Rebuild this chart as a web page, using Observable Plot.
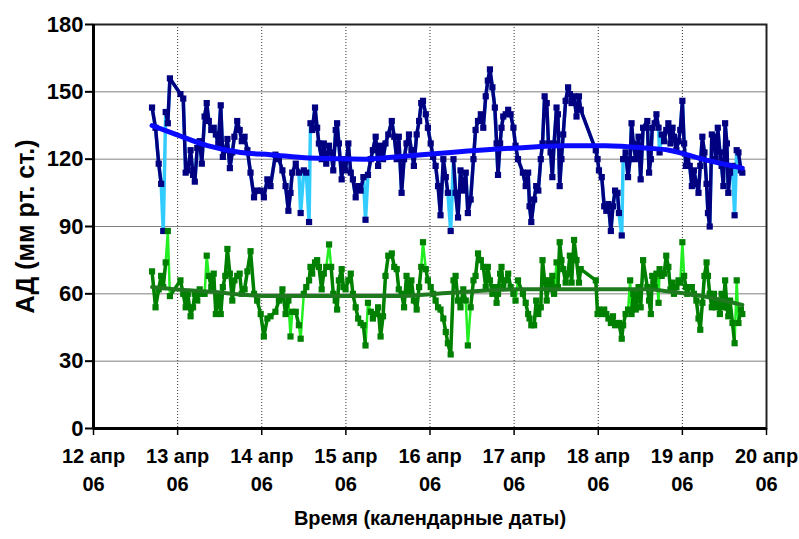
<!DOCTYPE html>
<html><head><meta charset="utf-8">
<script src="https://cdn.jsdelivr.net/npm/d3@7"></script>
<script src="https://cdn.jsdelivr.net/npm/@observablehq/plot@0.6"></script>
<style>
body{margin:0;background:#fff;}
</style></head><body><div id="chart"></div>
<script>
// Hours since 12 Apr 2006 00:00
const hours = [
16.7,17.7,18.6,19.3,19.9,20.6,21.2,21.8,24.8,25.6,26.3,26.9,27.7,28.4,28.9,29.6,30.3,30.9,31.7,32.3,32.9,33.6,34.3,34.9,35.6,36.3,36.9,37.6,38.2,38.9,39.6,40.2,41.0,41.7,42.3,43.1,43.9,44.8,45.8,46.7,47.7,48.6,49.6,50.5,
51.9,52.9,53.9,54.8,55.6,56.2,56.7,57.7,58.6,59.1,60.0,60.7,61.5,61.9,62.4,63.2,63.8,64.3,65.1,65.7,66.4,67.2,67.8,68.4,69.1,69.5,70.0,70.8,71.3,71.9,72.7,73.4,74.0,74.8,75.5,76.2,77.0,77.6,78.3,79.1,79.7,80.5,81.2,81.9,82.6,83.3,84.1,85.1,85.8,
86.5,87.1,87.9,88.6,89.3,90.0,90.7,91.4,92.2,92.9,93.5,94.0,94.8,95.4,96.2,96.9,97.6,98.3,99.0,99.8,100.5,101.1,101.9,102.7,103.3,104.0,104.7,105.5,106.2,106.8,107.6,108.4,109.0,109.7,110.5,111.2,111.9,112.5,113.1,113.8,114.5,115.0,115.4,116.0,116.4,116.9,117.6,118.3,119.0,119.8,120.4,121.1,
122.5,123.3,124.0,124.4,124.9,125.7,126.3,126.9,127.6,128.1,128.7,129.3,129.8,130.4,130.9,131.4,132.1,132.5,133.0,133.5,134.0,134.7,135.4,135.9,136.4,137.1,137.8,138.5,139.0,143.3,143.8,144.2,145.0,145.7,146.3,146.9,147.6,148.2,148.8,149.5,149.9,150.7,151.1,151.8,152.5,153.1,153.5,154.0,154.7,155.5,156.1,156.8,
158.0,158.5,159.0,159.4,160.1,160.6,161.2,161.5,162.1,162.8,163.4,164.0,164.6,165.2,165.6,166.3,166.9,167.4,168.0,168.5,169.0,169.4,170.1,170.7,171.3,172.0,172.6,173.1,173.7,174.3,174.9,175.3,175.8,176.4,177.0,177.5,178.1,178.7,179.2,179.7,180.2,180.7,181.1,181.6,182.3,182.9,183.5,184.0,184.7,185.1
];
const systolic = [
143,134,118,109,88,141,136,156,149,147,114,115,124,113,110,125,128,118,139,145,137,133,134,131,127,144,121,124,129,116,123,130,137,133,128,130,124,114,103,106,106,103,111,108,
122,120,115,108,97,105,114,118,114,96,115,114,92,136,133,143,134,127,120,127,118,126,123,115,133,136,127,111,120,115,127,114,111,103,108,106,112,93,113,120,124,130,117,126,120,127,131,137,130,
120,130,105,120,127,131,124,117,131,137,145,146,140,134,127,121,117,108,95,120,112,105,88,120,105,94,115,106,114,96,102,120,133,137,140,134,148,155,160,152,143,127,113,127,134,139,140,142,140,134,126,120,
114,108,114,99,92,102,108,106,120,127,148,145,127,123,112,127,143,140,108,120,131,146,152,149,145,148,139,148,142,124,120,115,112,99,97,100,88,99,106,105,96,86,120,123,112,120,136,127,120,130,111,134,
137,114,120,134,136,140,134,123,131,128,133,136,127,134,130,124,128,133,146,127,117,120,117,108,115,109,105,117,130,123,109,96,90,131,130,120,134,123,117,108,136,127,105,114,117,95,124,123,115,114
];
const diastolic = [
70,54,62,68,63,74,88,59,66,60,54,60,50,54,60,57,62,60,60,77,68,63,69,51,60,51,63,68,80,69,57,66,68,69,60,62,70,79,60,57,51,41,49,50,
52,57,62,51,57,41,52,52,46,40,60,63,66,72,69,74,75,72,62,69,72,82,72,60,57,53,66,71,63,62,66,69,60,54,49,47,46,37,56,52,49,51,54,41,50,68,77,78,72,
71,62,60,54,68,60,66,57,53,63,72,83,71,66,63,60,57,54,53,49,43,38,33,66,68,57,54,62,57,37,54,66,68,78,75,72,63,72,66,60,63,56,60,69,72,63,66,69,63,60,57,66,
60,56,51,49,46,46,57,51,54,75,66,57,66,62,68,60,74,63,83,75,71,65,69,77,65,84,75,65,71,66,51,53,51,53,51,49,47,50,46,47,47,40,46,51,53,66,51,60,53,63,54,75,
63,57,51,68,63,69,56,71,68,69,77,72,62,65,60,63,66,65,83,68,63,60,63,63,60,57,49,44,56,68,74,68,60,54,60,54,57,51,60,54,66,54,50,57,47,38,66,47,53,51
];
// readings where the dark line is interrupted (light line shows)
const sysGaps = [19.9, 59.1, 61.5, 77.6, 101.9, 150.7, 161.5, 182.9];
const diaGaps = [21.2, 32.3, 56.2, 59.1, 67.2, 78.3, 94.0, 106.8, 120.4, 132.1, 153.1, 161.2, 168.0, 183.5];

// trend lines
const sysTrendHours = [16.7, 22.9, 32.5, 42.0, 50.5, 61.5, 77.6, 86.2, 101.9, 120.9, 134.7, 146.1, 157.5, 164.2, 173.7, 185.1];
const sysTrend      = [135, 131.4, 126, 123, 122, 120.5, 120, 121, 123, 125, 126, 126, 125, 124, 120, 116];
const diaTrendHours = [16.7, 22.9, 32.5, 50.5, 86.2, 101.9, 121.0, 157.5, 164.2, 173.7, 185.1];
const diaTrend      = [63, 62, 61, 59, 59, 60.5, 62, 62, 61, 59, 55];

const dayTicks = ["12 апр","13 апр","14 апр","15 апр","16 апр","17 апр","18 апр","19 апр","20 апр"];
const yearLabel = "06";
const yTicks = [0, 30, 60, 90, 120, 150, 180];
const yTitle = "АД (мм рт. ст.)";
const xTitle = "Время (календарные даты)";

const t0 = Date.UTC(2006, 3, 12);
const toDate = h => new Date(t0 + h * 3600000);
const rows = hours.map((h, i) => ({
  t: toDate(h),
  sys: systolic[i],
  dia: diastolic[i],
  sysDark: sysGaps.includes(h) ? NaN : systolic[i],
  diaDark: diaGaps.includes(h) ? NaN : diastolic[i]
}));
const sysTrendRows = sysTrendHours.map((h, i) => ({t: toDate(h), v: sysTrend[i]}));
const diaTrendRows = diaTrendHours.map((h, i) => ({t: toDate(h), v: diaTrend[i]}));
const tickDates = dayTicks.map((_, i) => new Date(t0 + i * 86400000));

const font = "'Liberation Sans', Arial, sans-serif";
const chart = Plot.plot({
  width: 799, height: 539,
  marginLeft: 93, marginRight: 33, marginTop: 24, marginBottom: 111,
  style: {fontFamily: font, fontWeight: "bold", background: "white", color: "black"},
  x: {type: "utc", domain: [tickDates[0], tickDates[tickDates.length - 1]]},
  y: {domain: [0, 180]},
  marks: [
    Plot.gridY(yTicks.slice(1, -1), {stroke: "#808080", strokeOpacity: 1, strokeWidth: 1}),
    Plot.gridX(tickDates.slice(1, -1), {stroke: "#333", strokeOpacity: 1, strokeWidth: 1, strokeDasharray: "1,2"}),
    Plot.line(rows, {x: "t", y: "sys", stroke: "#33ccff", strokeWidth: 3.5}),
    Plot.line(rows, {x: "t", y: "sysDark", stroke: "#000080", strokeWidth: 3.5}),
    Plot.dot(rows, {x: "t", y: "sys", symbol: "square", r: 3.5, fill: "#000080"}),
    Plot.line(rows, {x: "t", y: "dia", stroke: "#22ee22", strokeWidth: 2.5}),
    Plot.line(rows, {x: "t", y: "diaDark", stroke: "#008000", strokeWidth: 3.5}),
    Plot.dot(rows, {x: "t", y: "dia", symbol: "square", r: 3.5, fill: "#008000"}),
    Plot.line(sysTrendRows, {x: "t", y: "v", stroke: "#0a0aff", strokeWidth: 5, curve: "monotone-x"}),
    Plot.line(diaTrendRows, {x: "t", y: "v", stroke: "#1f7a1f", strokeWidth: 4, curve: "monotone-x"}),
    Plot.frame({stroke: "#222", strokeWidth: 2}),
    Plot.ruleX([tickDates[0]], {stroke: "black", strokeWidth: 3}),
    Plot.ruleY([0], {stroke: "black", strokeWidth: 3}),
    Plot.axisY(yTicks, {tickSize: 8, tickPadding: 2, fontSize: 22, strokeWidth: 2, label: null}),
    Plot.axisX(tickDates, {tickSize: 7, strokeWidth: 1.5, tickFormat: () => "", label: null}),
    Plot.text(tickDates, {x: d => d, text: (d, i) => dayTicks[i], frameAnchor: "bottom", dy: 34, fontSize: 20, letterSpacing: "-1px"}),
    Plot.text(tickDates, {x: d => d, text: () => yearLabel, frameAnchor: "bottom", dy: 62, fontSize: 20}),
    Plot.text([xTitle], {frameAnchor: "bottom", dy: 96, fontSize: 20, letterSpacing: "-0.8px"}),
    Plot.text([yTitle], {frameAnchor: "left", textAnchor: "middle", rotate: -90, dx: -68, fontSize: 25, letterSpacing: "-1.5px"})
  ]
});
document.getElementById("chart").append(chart);
</script>
</body></html>
